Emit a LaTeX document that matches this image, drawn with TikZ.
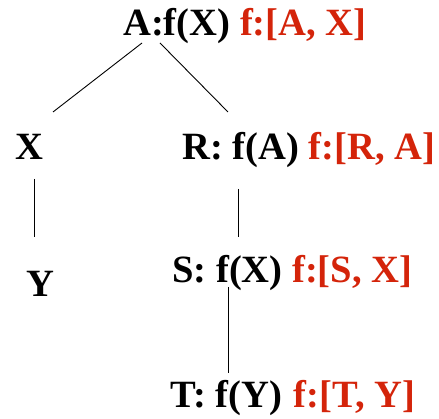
\documentclass[tikz,border=0pt]{standalone}
\usepackage{fontspec}
\setmainfont{Liberation Serif}
\definecolor{fred}{RGB}{212,36,10}
\begin{document}
\begin{tikzpicture}[x=1pt,y=1pt,
  lbl/.style={anchor=base west,inner sep=0pt,font=\fontsize{38.6}{42}\selectfont\bfseries},
  edge/.style={line width=0.9pt,black}]
\useasboundingbox (0,0) rectangle (439,419);
\node[lbl] (a) at (123,383) {A:f(X) \textcolor{fred}{f:[A, X]}};
\node[lbl] (x) at (15,259) {X};
\node[lbl] (r) at (182,259) {R: f(A) \textcolor{fred}{f:[R, A]}};
\node[lbl] (y) at (26,122) {Y};
\node[lbl] (s) at (172,136) {S: f(X) \textcolor{fred}{f:[S, X]}};
\node[lbl] (t) at (170,11) {T: f(Y)\hspace{0.3em}\textcolor{fred}{f:[T, Y]}};
\draw[edge] ([xshift=19pt,yshift=-7pt]a.base west) -- ([xshift=38pt,yshift=48pt]x.base west);
\draw[edge] ([xshift=37pt,yshift=-7pt]a.base west) -- ([xshift=46pt,yshift=48pt]r.base west);
\draw[edge] ([xshift=19pt,yshift=-19pt]x.base west) -- ([xshift=8pt,yshift=60pt]y.base west);
\draw[edge] ([xshift=56pt,yshift=-29pt]r.base west) -- ([xshift=66pt,yshift=46pt]s.base west);
\draw[edge] ([xshift=56pt,yshift=-4pt]s.base west) -- ([xshift=58pt,yshift=35pt]t.base west);
\end{tikzpicture}
\end{document}
